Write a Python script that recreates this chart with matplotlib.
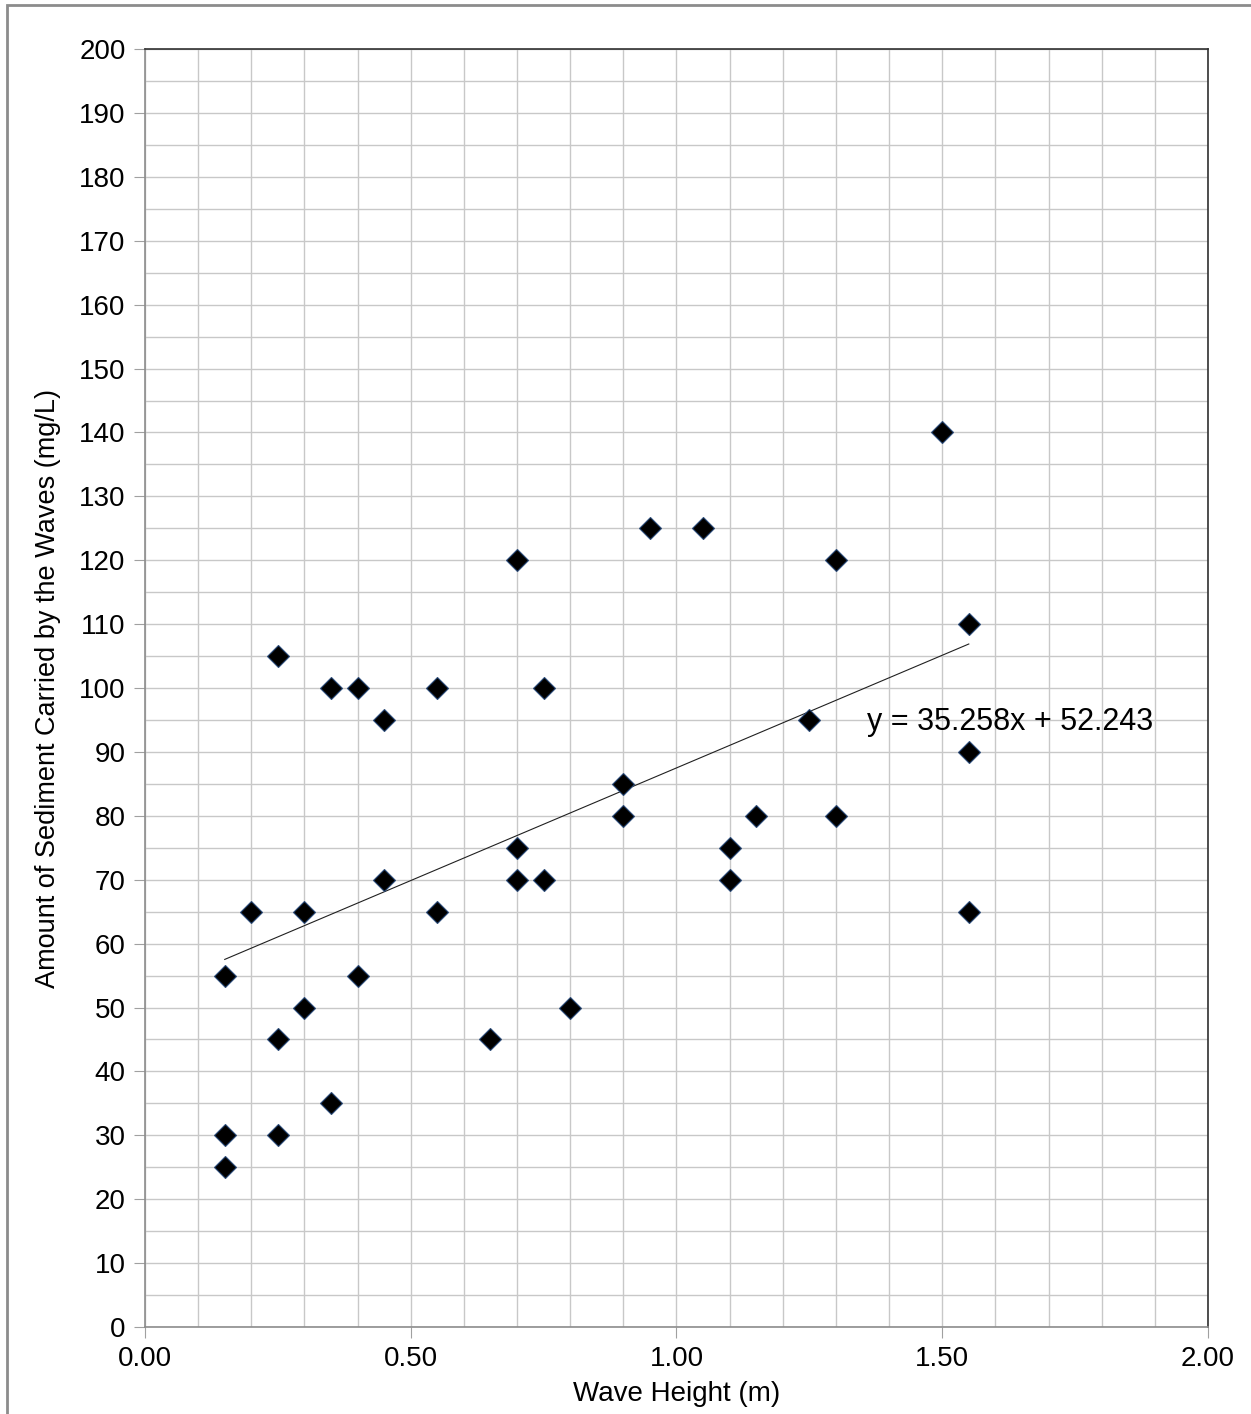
import numpy as np
import matplotlib.pyplot as plt
from matplotlib.patches import Rectangle
from matplotlib.ticker import MultipleLocator, FormatStrFormatter

plt.rcParams['font.family'] = ['Liberation Sans', 'DejaVu Sans']

wave_height = [0.15, 0.15, 0.15, 0.20, 0.25, 0.25, 0.25, 0.30, 0.30, 0.35,
               0.35, 0.40, 0.40, 0.45, 0.45, 0.55, 0.55, 0.65, 0.70, 0.70,
               0.70, 0.75, 0.75, 0.80, 0.90, 0.90, 0.95, 1.05, 1.10, 1.10,
               1.15, 1.25, 1.30, 1.30, 1.50, 1.55, 1.55, 1.55]
sediment = [55, 30, 25, 65, 105, 45, 30, 65, 50, 100,
            35, 100, 55, 95, 70, 100, 65, 45, 120, 75,
            70, 100, 70, 50, 85, 80, 125, 125, 75, 70,
            80, 95, 120, 80, 140, 110, 90, 65]
slope = 35.258
intercept = 52.243

fig = plt.figure(figsize=(12.51, 14.14), dpi=100)
ax = fig.add_axes([0.1159, 0.0615, 0.8497, 0.9038])

# trend line over the data range
xs = np.array([min(wave_height), max(wave_height)])
ax.plot(xs, slope * xs + intercept, color='#202020', lw=0.8, zorder=3)

ax.plot(wave_height, sediment, linestyle='none', marker='D', markersize=11,
        markerfacecolor='black', markeredgecolor='#2a4a78', markeredgewidth=0.8,
        zorder=4)

ax.text(1.358, 94.7, 'y = 35.258x + 52.243', fontsize=22, va='center',
        ha='left', zorder=5)

ax.set_xlim(0, 2)
ax.set_ylim(0, 200)
ax.xaxis.set_major_locator(MultipleLocator(0.5))
ax.xaxis.set_minor_locator(MultipleLocator(0.1))
ax.yaxis.set_major_locator(MultipleLocator(10))
ax.yaxis.set_minor_locator(MultipleLocator(5))
ax.xaxis.set_major_formatter(FormatStrFormatter('%.2f'))

ax.grid(True, which='both', color='#c8c8c8', lw=1.0, zorder=0)
ax.set_axisbelow(True)
ax.tick_params(which='major', direction='out', length=8, color='#a0a0a0',
               labelsize=20, pad=6)
ax.tick_params(which='minor', length=0)

for side in ['left', 'bottom']:
    ax.spines[side].set_color('#8c8c8c')
for side in ['top', 'right']:
    ax.spines[side].set_color('#303030')
for s in ax.spines.values():
    s.set_linewidth(1.2)

ax.set_xlabel('Wave Height (m)', fontsize=20, labelpad=6)
ax.set_ylabel('Amount of Sediment Carried by the Waves (mg/L)', fontsize=19.5,
              labelpad=13)

# outer frame
fig.patches.append(Rectangle((7 / 1251, -0.01), 1.05, 1 - 5 / 1414 + 0.01,
                             transform=fig.transFigure, fill=False,
                             edgecolor='#8c8c8c', lw=2))

fig.savefig('out.png', dpi=100)
